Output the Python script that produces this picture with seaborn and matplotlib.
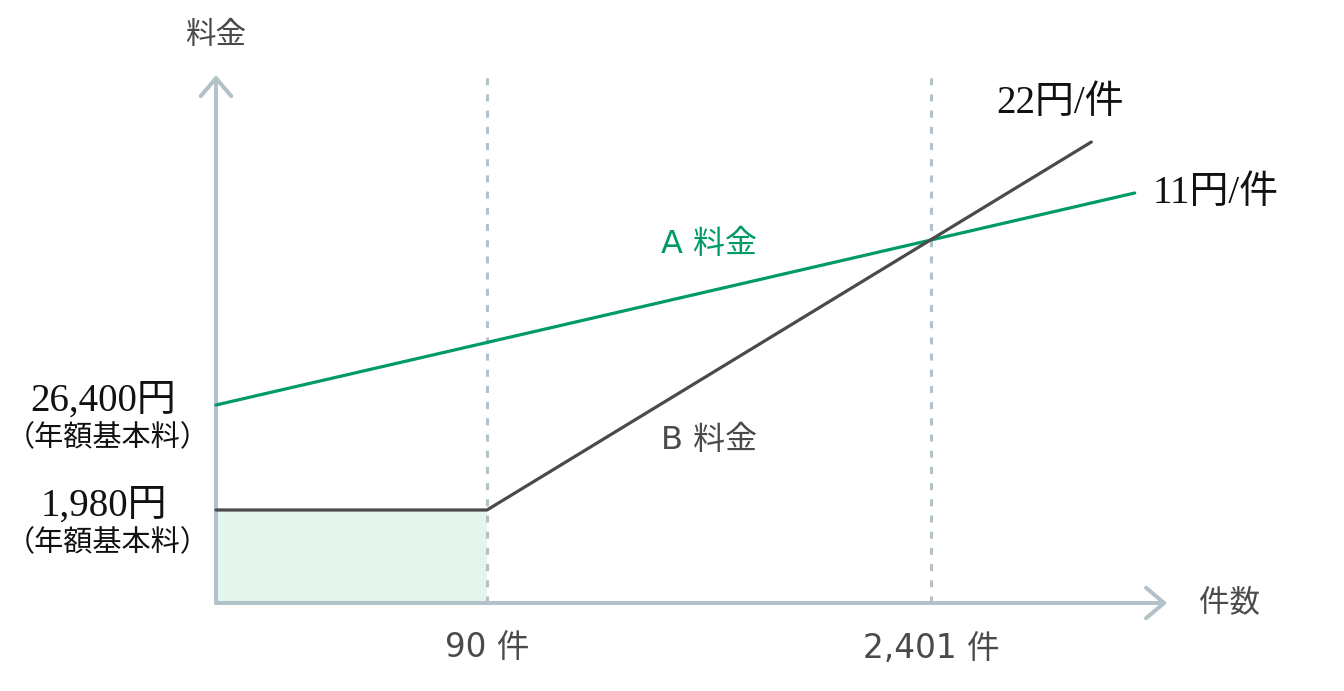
import pandas as pd
import matplotlib
matplotlib.use("Agg")
import matplotlib.pyplot as plt
import seaborn as sns

# schematic chart: x in "steps" (90件 = 1.0), y in schematic fee units
count_labels = ["90 件", "2,401 件"]
count_pos = [1.0, 2.64]

a_x = [0.0, 3.39]
a_y = [1.98, 4.10]
b_x = [0.0, 1.0, 3.23]
b_y = [0.93, 0.93, 4.61]

base_labels = ["26,400円", "1,980円"]
base_y = [1.98, 0.93]
rate_labels = ["22円/件", "11円/件"]

x_end = 3.51
y_end = 5.28

GREEN = "#009a68"
DARK = "#4a4a4a"
AXIS = "#b3c2c8"
FILL = "#e4f5ee"

sns.set_style("white")
plt.rcParams['font.family'] = ['DejaVu Sans', 'Noto Sans CJK JP']
sans = ['DejaVu Sans', 'Noto Sans CJK JP']
serif = ['Liberation Serif', 'Noto Sans CJK JP']

df = pd.concat([
    pd.DataFrame({"x": a_x, "y": a_y, "plan": "A"}),
    pd.DataFrame({"x": b_x, "y": b_y, "plan": "B"}),
])

fig = plt.figure(figsize=(13.44, 6.91), dpi=100)
ax = fig.add_axes([0, 0, 1, 1])
ax.set_xlim(-216 / 271, (1344 - 216) / 271)
ax.set_ylim(-0.88, 6.03)
ax.axis("off")

# shaded base fee area for B
ax.fill_between([0, count_pos[0]], 0, b_y[0], color=FILL, lw=0, zorder=1)

# dashed guides
for xp in count_pos:
    ax.plot([xp, xp], [0, y_end], color=AXIS, lw=2.2, ls=(0, (2.3, 3.0)), zorder=2)

# axes with open arrow heads
arrow = dict(arrowstyle="->,head_length=0.65,head_width=0.55", color=AXIS,
             lw=2.9, mutation_scale=20, shrinkA=0, shrinkB=0)
ax.annotate("", xy=(x_end, 0), xytext=(0, 0), arrowprops=arrow, zorder=3)
ax.annotate("", xy=(0, y_end), xytext=(0, 0), arrowprops=arrow, zorder=3)

sns.lineplot(data=df, x="x", y="y", hue="plan", palette={"A": GREEN, "B": DARK},
             lw=2.3, legend=False, ax=ax, zorder=4, estimator=None, sort=False)

# axis titles
ax.text(0, 5.68, "料金", ha="center", va="center", fontsize=22, color=DARK, family=sans)
ax.text(3.74, 0.0, "件数", ha="center", va="center", fontsize=22, color=DARK, family=sans)
for xp, lab in zip(count_pos, count_labels):
    ax.text(xp, -0.45, lab, ha="center", va="center", fontsize=23.5, color=DARK, family=sans)

# plan labels
ax.text(1.82, 3.58, "A 料金", ha="center", va="center", fontsize=23, color=GREEN, family=sans)
ax.text(1.82, 1.63, "B 料金", ha="center", va="center", fontsize=23, color=DARK, family=sans)

# base fees
for yv, lab in zip(base_y, base_labels):
    ax.text(-0.415, yv + 0.04, lab, ha="center", va="center", fontsize=28,
            color="#111111", family=serif)
    ax.text(-0.40, yv - 0.33, "（年額基本料）", ha="center", va="center",
            fontsize=21, color="#111111", family=serif)

# per-item rates
ax.text(2.88, 4.99, rate_labels[0], ha="left", va="center", fontsize=28,
        color="#111111", family=serif)
ax.text(3.455, 4.10, rate_labels[1], ha="left", va="center", fontsize=28,
        color="#111111", family=serif)

fig.savefig("out.png", dpi=100)
